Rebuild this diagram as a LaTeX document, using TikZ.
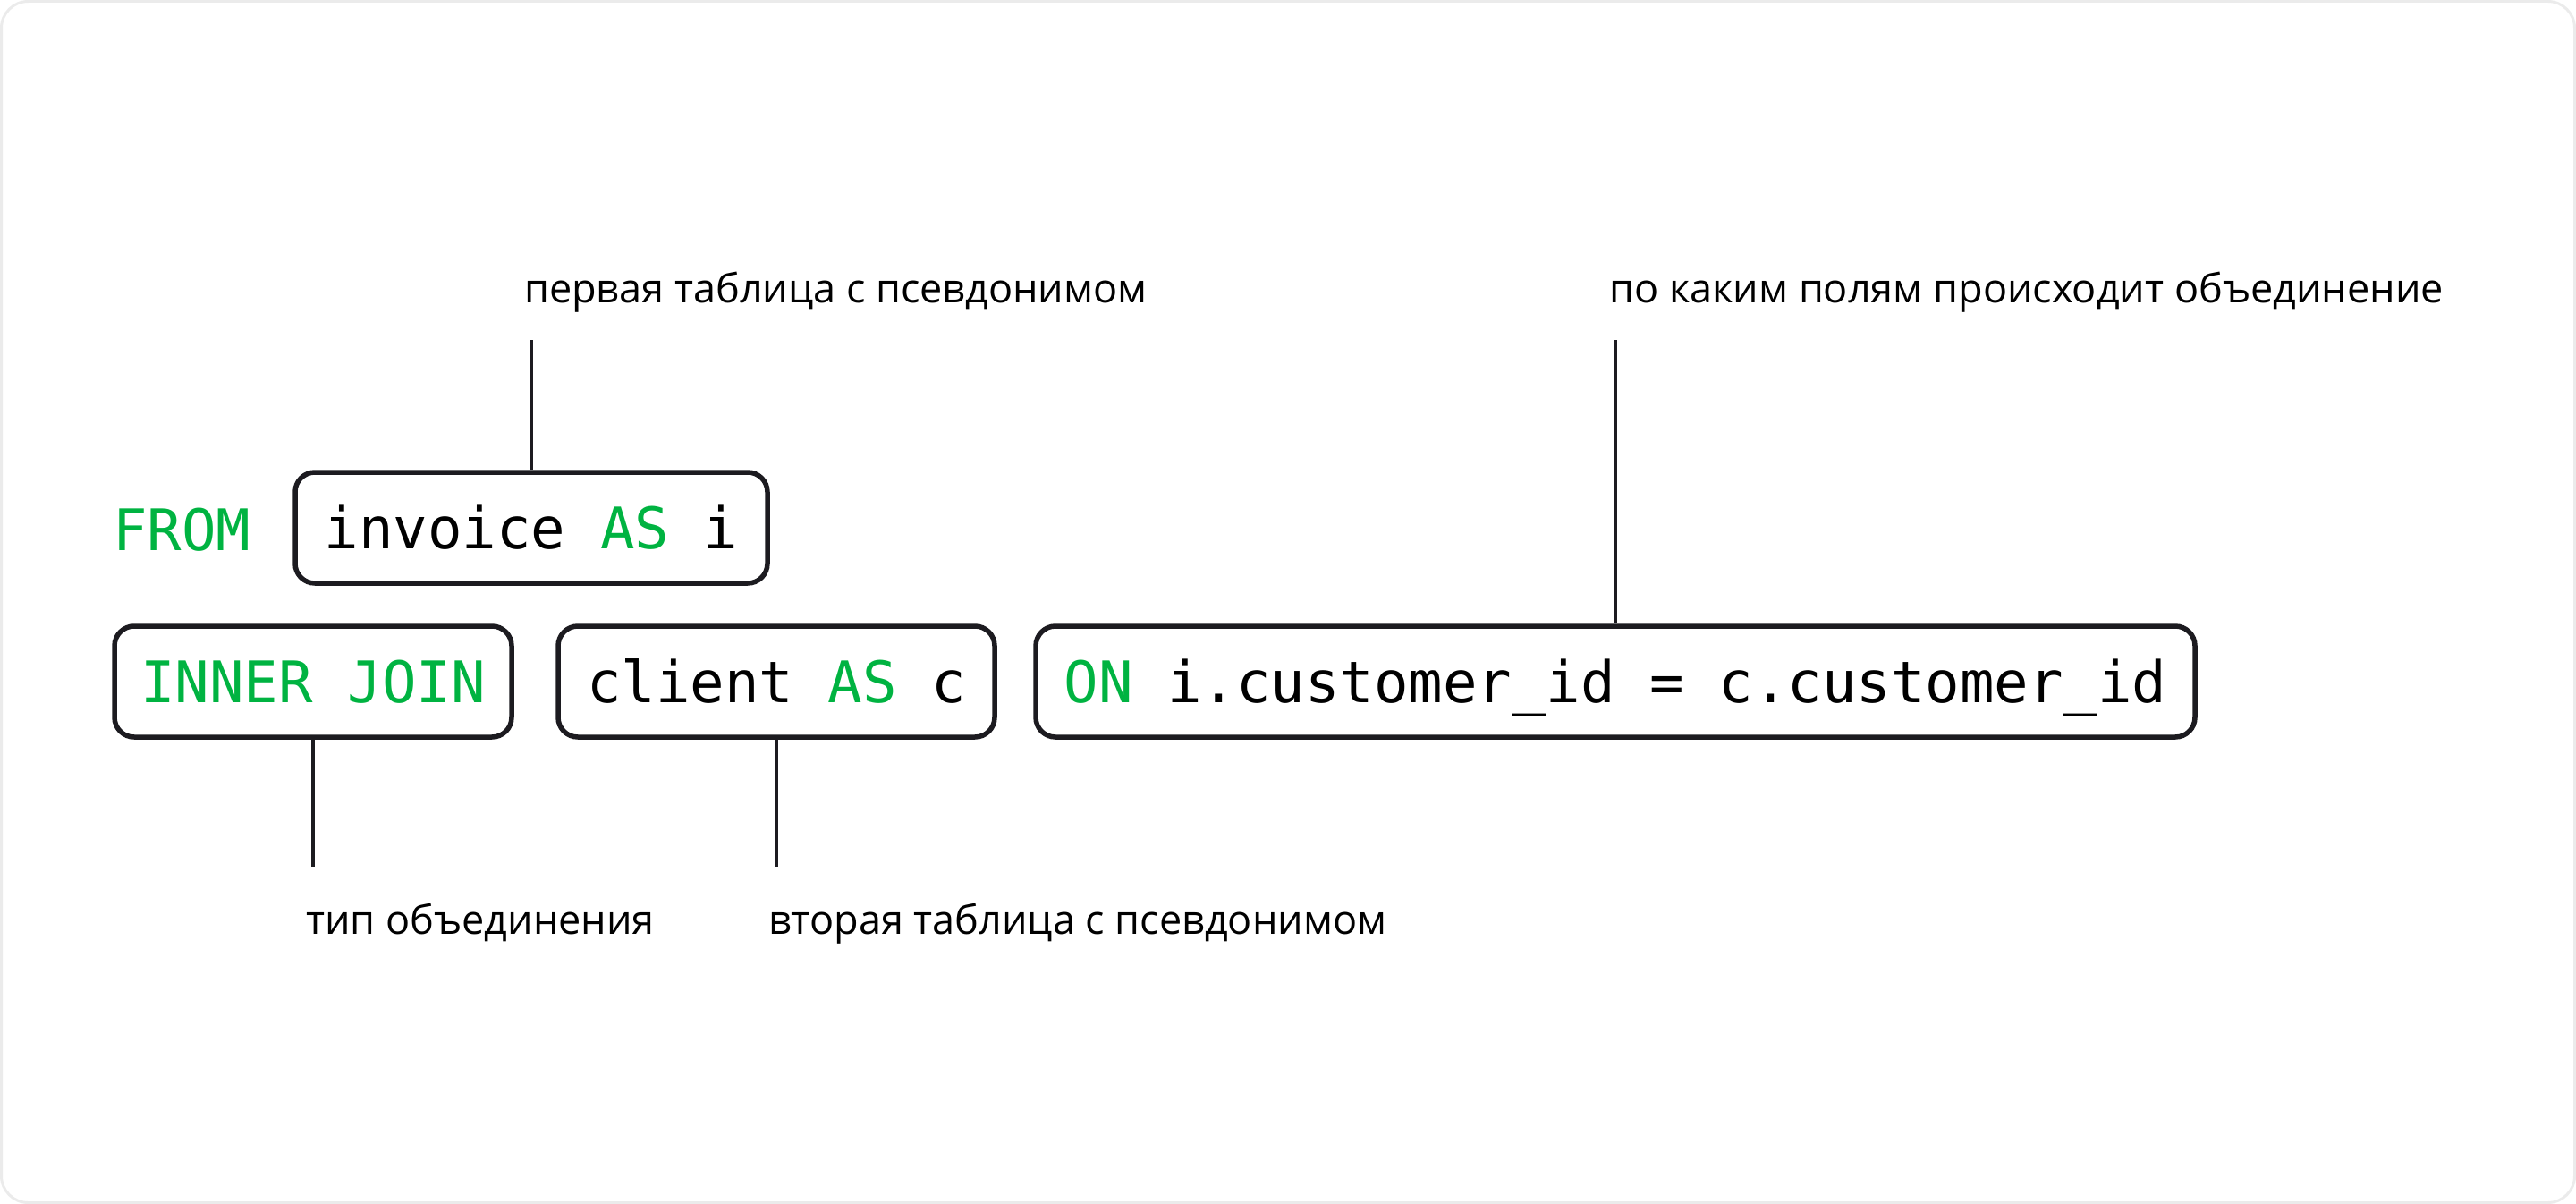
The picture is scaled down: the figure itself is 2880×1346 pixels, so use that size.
\documentclass[tikz,border=0pt]{standalone}
\usepackage{fontspec}
\setmonofont{DejaVu Sans Mono}
\newfontfamily\lblfont{Open Sans}
\definecolor{sqlgreen}{RGB}{0,179,65}
\definecolor{ink}{RGB}{28,27,32}
\definecolor{framegray}{RGB}{235,235,235}
\newcommand\sqlkw[1]{\textcolor{sqlgreen}{#1}}
\begin{document}
\begin{tikzpicture}[x=1pt,y=-1pt,
  codebox/.style={draw=ink, line width=5.5pt, rounded corners=22pt,
    minimum height=124pt, inner sep=0pt,
    font=\ttfamily\fontsize{64pt}{76pt}\selectfont,
    text height=46.7pt, text depth=0pt},
  codetxt/.style={inner sep=0pt, font=\ttfamily\fontsize{64pt}{76pt}\selectfont},
  lbl/.style={font=\lblfont\fontsize{45pt}{54pt}\selectfont, inner sep=0pt, anchor=base west},
  conn/.style={draw=ink, line width=4.5pt}
]
\useasboundingbox (0,0) rectangle (2880,1346);
\draw[framegray, line width=3pt, rounded corners=30pt] (1.5,1.5) rectangle (2878.5,1344.5);

% code row 1
\node[codetxt, anchor=base west, text=sqlgreen] (from) at (126,615) {FROM};
\node[codebox, minimum width=528pt] (inv) at (594,590) {invoice \sqlkw{AS} i};

% code row 2
\node[codebox, minimum width=444pt] (join) at (350,762) {\sqlkw{INNER JOIN}};
\node[codebox, minimum width=488pt] (cli) at (868,762) {client \sqlkw{AS} c};
\node[codebox, minimum width=1296pt] (on) at (1806,762) {\sqlkw{ON} i.customer\_id = c.customer\_id};

% connector ends
\coordinate (tinv) at (594,380);
\coordinate (ton) at (1806,380);
\coordinate (bjoin) at (350,969);
\coordinate (bcli) at (868,969);

\draw[conn] (tinv) -- (inv.north);
\draw[conn] (ton) -- (on.north);
\draw[conn] (join.south) -- (bjoin);
\draw[conn] (cli.south) -- (bcli);

% labels
\node[lbl] (l1) at (586,338) {первая таблица с псевдонимом};
\node[lbl] (l2) at (1799,338) {по каким полям происходит объединение};
\node[lbl] (l3) at (342,1044) {тип объединения};
\node[lbl] (l4) at (859,1044) {вторая таблица с псевдонимом};
\end{tikzpicture}
\end{document}
